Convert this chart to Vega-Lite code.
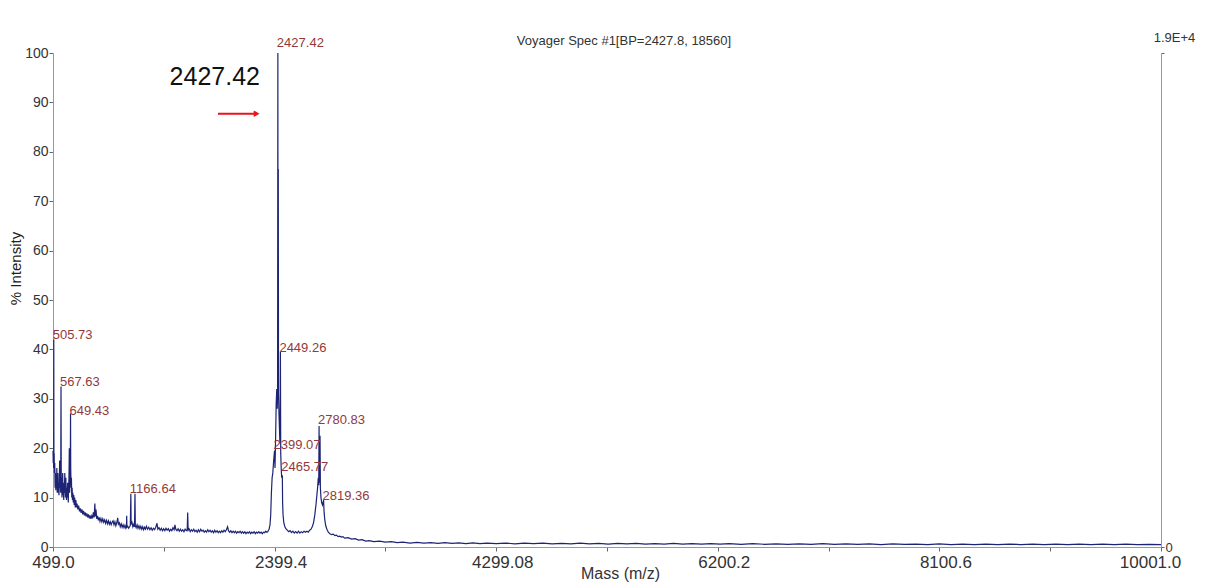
{
  "$schema": "https://vega.github.io/schema/vega-lite/v6.json",
  "width": 1108,
  "height": 494,
  "autosize": {"type": "none"},
  "padding": {"left": 53, "top": 53, "right": 46, "bottom": 40},
  "background": "white",
  "title": {"text": "Voyager Spec #1[BP=2427.8, 18560]", "fontSize": 13, "fontWeight": "normal", "color": "#333", "frame": "group", "dx": 17, "offset": 5, "dy": 22, "font": "Liberation Sans"},
  "config": {"view": {"stroke": null}, "font": "Liberation Sans"},
  "datasets": {
    "spec": [
      {"m":499,"i":19.5},{"m":501,"i":17},{"m":503,"i":18.5},{"m":504.5,"i":16},{"m":505.73,"i":42},{"m":507,"i":17},{"m":509,"i":19},{"m":511,"i":15},{"m":514,"i":17},{"m":517,"i":12},{"m":520,"i":15},{"m":523,"i":11.5},{"m":526,"i":14},{"m":529,"i":12},{"m":532,"i":16},{"m":535,"i":11},{"m":538,"i":13},{"m":541,"i":15},{"m":544,"i":11},{"m":547,"i":13},{"m":550,"i":10.5},{"m":553,"i":12.5},{"m":556,"i":17.5},{"m":559,"i":12},{"m":562,"i":14},{"m":565,"i":11},{"m":567.63,"i":32.5},{"m":570,"i":12},{"m":573,"i":14},{"m":576,"i":10},{"m":579,"i":12},{"m":582,"i":15},{"m":585,"i":10.5},{"m":588,"i":12},{"m":591,"i":9.5},{"m":594,"i":13},{"m":597,"i":11},{"m":600,"i":15},{"m":603,"i":12},{"m":606,"i":10},{"m":609,"i":14},{"m":612,"i":11},{"m":615,"i":9.5},{"m":618,"i":12},{"m":621,"i":10},{"m":624,"i":13},{"m":627,"i":11},{"m":630,"i":9},{"m":633,"i":12},{"m":636,"i":14},{"m":639,"i":20},{"m":642,"i":11},{"m":645,"i":15},{"m":647,"i":13},{"m":649.43,"i":27},{"m":651,"i":16},{"m":654,"i":12},{"m":657,"i":14},{"m":660,"i":10},{"m":663,"i":12},{"m":666,"i":9.5},{"m":669,"i":11},{"m":673,"i":9},{"m":677,"i":10.5},{"m":681,"i":8.5},{"m":685,"i":10},{"m":690,"i":8},{"m":695,"i":9.5},{"m":700,"i":8},
      {"m":705,"i":8.8},{"m":712,"i":7.6},{"m":719,"i":8.4},{"m":726,"i":7.2},{"m":733,"i":7.8},{"m":740,"i":6.9},{"m":747,"i":7.6},{"m":754,"i":6.6},{"m":761,"i":7.3},{"m":768,"i":6.4},{"m":775,"i":7},{"m":782,"i":6.2},{"m":789,"i":6.8},{"m":796,"i":6},{"m":803,"i":6.6},{"m":810,"i":5.8},{"m":817,"i":6.4},{"m":824,"i":5.7},{"m":831,"i":6.3},{"m":838,"i":5.8},{"m":845,"i":7},{"m":852,"i":6},{"m":858,"i":8.8},{"m":862,"i":6.2},{"m":868,"i":7.6},{"m":874,"i":5.7},{"m":881,"i":6.3},{"m":888,"i":5.4},{"m":895,"i":6},{"m":902,"i":5.2},{"m":910,"i":5.8},{"m":918,"i":5.1},{"m":926,"i":5.7},{"m":934,"i":5},{"m":942,"i":5.5},{"m":950,"i":4.8},{"m":958,"i":5.4},{"m":966,"i":4.7},{"m":974,"i":5.3},{"m":982,"i":4.6},{"m":990,"i":5.1},{"m":998,"i":4.5},{"m":1006,"i":5},{"m":1014,"i":5.3},{"m":1022,"i":4.5},{"m":1030,"i":5.1},{"m":1038,"i":4.3},{"m":1046,"i":4.9},{"m":1054,"i":5.9},{"m":1060,"i":4.6},{"m":1068,"i":4.9},{"m":1076,"i":4.1},{"m":1084,"i":4.7},{"m":1092,"i":4},{"m":1100,"i":4.5},{"m":1108,"i":3.9},{"m":1116,"i":4.4},{"m":1124,"i":3.8},{"m":1129,"i":4.1},{"m":1131,"i":6.3},{"m":1133,"i":4},{"m":1140,"i":4.2},{"m":1148,"i":3.8},{"m":1156,"i":4.1},{"m":1162,"i":4.4},{"m":1166.64,"i":10.8},{"m":1169,"i":4.6},{"m":1176,"i":5},{"m":1184,"i":4.1},{"m":1192,"i":4.6},{"m":1198,"i":4.1},{"m":1202,"i":10.8},{"m":1205,"i":4.3},{"m":1212,"i":3.9},{"m":1220,"i":4.5},{"m":1228,"i":3.8},
      {"m":1236,"i":4.3},{"m":1244,"i":3.7},{"m":1252,"i":4.2},{"m":1260,"i":3.6},{"m":1268,"i":4.1},{"m":1276,"i":3.5},{"m":1284,"i":4},{"m":1292,"i":3.6},{"m":1300,"i":4.2},{"m":1310,"i":3.6},{"m":1320,"i":4},{"m":1330,"i":3.5},{"m":1340,"i":3.9},{"m":1350,"i":3.4},{"m":1360,"i":3.8},{"m":1370,"i":3.5},{"m":1380,"i":4},{"m":1391,"i":4.8},{"m":1398,"i":3.6},{"m":1408,"i":3.9},{"m":1418,"i":3.4},{"m":1428,"i":3.8},{"m":1438,"i":3.3},{"m":1448,"i":3.7},{"m":1458,"i":3.3},{"m":1468,"i":3.8},{"m":1478,"i":3.4},{"m":1488,"i":3.7},{"m":1498,"i":3.2},{"m":1508,"i":3.6},{"m":1518,"i":3.3},{"m":1528,"i":3.9},{"m":1538,"i":3.5},{"m":1545,"i":4.5},{"m":1552,"i":3.6},{"m":1562,"i":3.3},{"m":1572,"i":3.7},{"m":1582,"i":3.2},{"m":1592,"i":3.6},{"m":1602,"i":3.2},{"m":1612,"i":3.5},{"m":1622,"i":3.1},{"m":1632,"i":3.6},{"m":1642,"i":3.3},{"m":1650,"i":3.5},{"m":1654,"i":7},{"m":1658,"i":3.4},{"m":1666,"i":3.7},{"m":1676,"i":3.1},{"m":1686,"i":3.5},{"m":1696,"i":3.2},{"m":1706,"i":3.6},{"m":1716,"i":3.1},{"m":1726,"i":3.4},{"m":1736,"i":3},{"m":1746,"i":3.5},{"m":1756,"i":3.1},{"m":1766,"i":3.6},{"m":1776,"i":3.2},{"m":1786,"i":3.4},{"m":1796,"i":3},{"m":1806,"i":3.3},{"m":1816,"i":3},{"m":1826,"i":3.5},{"m":1836,"i":3.1},{"m":1846,"i":3.4},{"m":1856,"i":3},{"m":1866,"i":3.3},{"m":1876,"i":2.9},{"m":1886,"i":3.4},{"m":1896,"i":3},{"m":1906,"i":3.3},{"m":1916,"i":2.9},{"m":1926,"i":3.2},{"m":1936,"i":2.9},{"m":1946,"i":3.3},{"m":1956,"i":3},{"m":1966,"i":3.4},{"m":1976,"i":3.1},{"m":1986,"i":3.5},{"m":1996,"i":4.1},{"m":2004,"i":3.3},{"m":2014,"i":3},{"m":2024,"i":3.3},{"m":2034,"i":2.9},{"m":2044,"i":3.2},{"m":2054,"i":2.9},{"m":2064,"i":3.2},{"m":2074,"i":2.8},{"m":2084,"i":3.1},{"m":2094,"i":2.9},{"m":2104,"i":3.2},{"m":2114,"i":2.8},{"m":2124,"i":3.1},{"m":2134,"i":2.8},{"m":2144,"i":3.1},{"m":2154,"i":2.7},{"m":2164,"i":3},{"m":2174,"i":2.8},{"m":2184,"i":3.1},{"m":2194,"i":2.7},{"m":2204,"i":3},{"m":2214,"i":2.8},{"m":2224,"i":3.1},{"m":2234,"i":2.7},{"m":2244,"i":3},{"m":2254,"i":2.8},{"m":2264,"i":3.1},{"m":2274,"i":2.8},{"m":2284,"i":3},{"m":2294,"i":2.7},{"m":2304,"i":3},{"m":2314,"i":2.9},{"m":2324,"i":3.2},{"m":2332,"i":3},
      {"m":2340,"i":3.1},{"m":2352,"i":3.6},{"m":2360,"i":4.5},{"m":2366,"i":6.5},{"m":2372,"i":11},{"m":2378,"i":14},{"m":2384,"i":15},{"m":2390,"i":17},{"m":2395,"i":18.5},{"m":2399.07,"i":19.5},{"m":2403,"i":16},{"m":2408,"i":22},{"m":2413,"i":29},{"m":2418,"i":32},{"m":2422,"i":28},{"m":2425,"i":31},{"m":2427.42,"i":100},{"m":2429,"i":33},{"m":2431,"i":76.5},{"m":2433,"i":31},{"m":2437,"i":27},{"m":2441,"i":24},{"m":2445,"i":21},{"m":2447,"i":26},{"m":2449.26,"i":39.5},{"m":2452,"i":19},{"m":2456,"i":16},{"m":2460,"i":14},{"m":2465.77,"i":14.5},{"m":2468,"i":9},{"m":2472,"i":6.5},{"m":2478,"i":5},{"m":2486,"i":4.2},{"m":2496,"i":3.7},{"m":2508,"i":3.4},{"m":2520,"i":3.1},
      {"m":2532,"i":3.3},{"m":2544,"i":2.9},{"m":2556,"i":3.2},{"m":2568,"i":2.8},{"m":2580,"i":3.1},{"m":2592,"i":2.8},{"m":2604,"i":3.2},{"m":2616,"i":2.8},{"m":2628,"i":3.1},{"m":2640,"i":2.9},{"m":2652,"i":3.2},{"m":2664,"i":3},{"m":2676,"i":3.2},{"m":2688,"i":3},{"m":2700,"i":3.4},{"m":2712,"i":3.6},{"m":2724,"i":4.2},{"m":2734,"i":5},{"m":2744,"i":6.5},{"m":2754,"i":8.5},{"m":2762,"i":10.5},{"m":2768,"i":12},{"m":2774,"i":14},{"m":2778,"i":12.5},{"m":2780.83,"i":24.5},{"m":2783,"i":13},{"m":2786,"i":19},{"m":2789,"i":22.5},{"m":2792,"i":12},{"m":2797,"i":10},{"m":2803,"i":9},{"m":2810,"i":8.5},{"m":2815,"i":9},{"m":2819.36,"i":9.5},{"m":2824,"i":7},{"m":2830,"i":5.5},{"m":2838,"i":4.3},{"m":2848,"i":3.6},{"m":2860,"i":3},{"m":2874,"i":2.7},{"m":2888,"i":2.5},{"m":2902,"i":2.6},{"m":2916,"i":2.3},{"m":2930,"i":2.4},{"m":2944,"i":2.1},{"m":2958,"i":2.2},{"m":2972,"i":2},{"m":2986,"i":2.1},{"m":3000,"i":1.8},
      {"m":3030,"i":1.9},{"m":3060,"i":1.6},{"m":3090,"i":1.7},{"m":3120,"i":1.4},{"m":3150,"i":1.5},{"m":3180,"i":1.2},{"m":3210,"i":1.3},{"m":3250,"i":1.1},{"m":3300,"i":1.2},{"m":3350,"i":1},{"m":3400,"i":1.1},{"m":3450,"i":0.9},{"m":3500,"i":1},{"m":3560,"i":0.8},{"m":3620,"i":0.95},{"m":3680,"i":0.8},{"m":3740,"i":0.9},{"m":3800,"i":0.75},{"m":3860,"i":0.9},{"m":3920,"i":0.75},{"m":3980,"i":0.85},{"m":4040,"i":0.7},{"m":4100,"i":0.85},{"m":4160,"i":0.7},{"m":4220,"i":0.8},{"m":4300,"i":0.7},{"m":4380,"i":0.8},{"m":4460,"i":0.65},{"m":4540,"i":0.8},{"m":4620,"i":0.7},{"m":4700,"i":0.8},{"m":4780,"i":0.65},{"m":4860,"i":0.75},{"m":4940,"i":0.65},{"m":5020,"i":0.8},{"m":5100,"i":0.65},{"m":5180,"i":0.75},{"m":5260,"i":0.6},{"m":5340,"i":0.75},{"m":5420,"i":0.65},{"m":5500,"i":0.75},{"m":5580,"i":0.6},{"m":5660,"i":0.7},{"m":5740,"i":0.6},{"m":5820,"i":0.75},{"m":5900,"i":0.6},{"m":5980,"i":0.7},{"m":6060,"i":0.6},{"m":6140,"i":0.7},{"m":6220,"i":0.6},{"m":6300,"i":0.7},{"m":6400,"i":0.55},{"m":6500,"i":0.7},{"m":6600,"i":0.55},{"m":6700,"i":0.65},{"m":6800,"i":0.55},{"m":6900,"i":0.65},{"m":7000,"i":0.55},{"m":7100,"i":0.7},{"m":7200,"i":0.55},{"m":7300,"i":0.65},{"m":7400,"i":0.55},{"m":7500,"i":0.65},{"m":7600,"i":0.5},{"m":7700,"i":0.65},{"m":7800,"i":0.55},{"m":7900,"i":0.6},{"m":8000,"i":0.5},{"m":8100,"i":0.65},{"m":8200,"i":0.5},{"m":8300,"i":0.6},{"m":8400,"i":0.5},{"m":8500,"i":0.6},{"m":8600,"i":0.5},{"m":8700,"i":0.6},{"m":8800,"i":0.5},{"m":8900,"i":0.6},{"m":9000,"i":0.5},{"m":9100,"i":0.6},{"m":9200,"i":0.5},{"m":9300,"i":0.6},{"m":9400,"i":0.5},{"m":9500,"i":0.6},{"m":9600,"i":0.5},{"m":9700,"i":0.6},{"m":9800,"i":0.5},{"m":9900,"i":0.55},{"m":10001,"i":0.5}
    ],
    "labels": [
      {"m":2427.42,"ly":102,"t":"2427.42"},
      {"m":505.73,"ly":43,"t":"505.73"},
      {"m":567.63,"ly":33.5,"t":"567.63"},
      {"m":649.43,"ly":27.5,"t":"649.43"},
      {"m":1166.64,"ly":11.8,"t":"1166.64"},
      {"m":2449.26,"ly":40.2,"t":"2449.26"},
      {"m":2399.07,"ly":20.6,"t":"2399.07"},
      {"m":2465.77,"ly":16.2,"t":"2465.77"},
      {"m":2780.83,"ly":25.8,"t":"2780.83"},
      {"m":2819.36,"ly":10.3,"t":"2819.36"}
    ],
    "note": [{"m":2274,"ly":95.1,"t":"2427.42","m1":1914,"m2":2245,"ay":87.7}]
  },
  "layer": [
    {
      "layer": [
        {
          "data": {"name": "spec"},
          "mark": {"type": "line", "color": "#1d2474", "strokeWidth": 1.2, "interpolate": "linear"},
          "encoding": {
            "x": {"field": "m", "type": "quantitative", "scale": {"domain": [499, 10001], "nice": false, "zero": false},
              "axis": {"title": "Mass (m/z)", "titleFontSize": 16, "titleFontWeight": "normal", "titleColor": "#333", "titleX": 567, "titleY": 26, "titleBaseline": "middle",
                "values": [499, 1449.2, 2399.4, 3349.6, 4299.8, 5250, 6200.2, 7150.4, 8100.6, 9050.8, 10001],
                "labelExpr": "datum.value == 499 ? '499.0' : datum.value == 2399.4 ? '2399.4' : datum.value == 4299.8 ? '4299.08' : datum.value == 6200.2 ? '6200.2' : datum.value == 8100.6 ? '8100.6' : datum.value == 10001 ? '10001.0' : ''",
                "labelOffset": {"condition": [{"test": "datum.value == 10001", "value": -11}, {"test": "datum.value > 2000", "value": 6}], "value": 0},
                "labelFlush": false, "labelOverlap": false, "labelFontSize": 17, "labelColor": "#333", "labelPadding": 3,
                "tickSize": 4, "tickColor": "#666", "domainColor": "#999", "grid": false}},
            "y": {"field": "i", "type": "quantitative", "scale": {"domain": [0, 100], "nice": false},
              "axis": {"title": "% Intensity", "titleFontSize": 15, "titleFontWeight": "normal", "titleColor": "#222", "titleX": -38, "titleY": 215, "titleBaseline": "middle",
                "values": [0,5,10,15,20,25,30,35,40,45,50,55,60,65,70,75,80,85,90,95,100],
                "labelExpr": "datum.value % 10 == 0 ? datum.label : ''",
                "labelFontSize": 14, "labelColor": "#333", "labelPadding": 1,
                "tickSize": {"condition": {"test": "datum.value % 10 == 0", "value": 4}, "value": 2},
                "tickColor": "#666", "domainColor": "#999", "grid": false}}
          }
        },
        {
          "data": {"name": "labels"},
          "mark": {"type": "text", "align": "left", "baseline": "middle", "fontSize": 13, "color": "#93393b", "dx": -1},
          "encoding": {
            "x": {"field": "m", "type": "quantitative"},
            "y": {"field": "ly", "type": "quantitative"},
            "text": {"field": "t"}
          }
        },
        {
          "data": {"name": "note"},
          "mark": {"type": "text", "align": "right", "baseline": "middle", "fontSize": 25, "color": "#111"},
          "encoding": {
            "x": {"field": "m", "type": "quantitative"},
            "y": {"field": "ly", "type": "quantitative"},
            "text": {"field": "t"}
          }
        },
        {
          "data": {"name": "note"},
          "mark": {"type": "rule", "color": "#e8151b", "strokeWidth": 2},
          "encoding": {
            "x": {"field": "m1", "type": "quantitative"},
            "x2": {"field": "m2"},
            "y": {"field": "ay", "type": "quantitative"}
          }
        },
        {
          "data": {"name": "note"},
          "mark": {"type": "point", "shape": "triangle-right", "filled": true, "color": "#e8151b", "size": 45, "opacity": 1},
          "encoding": {
            "x": {"field": "m2", "type": "quantitative"},
            "y": {"field": "ay", "type": "quantitative"}
          }
        }
      ]
    },
    {
      "data": {"values": [{}]},
      "mark": {"type": "rule", "opacity": 0},
      "encoding": {
        "y": {"datum": 0, "type": "quantitative", "scale": {"domain": [0, 19000], "nice": false},
          "axis": {"orient": "right", "title": null, "values": [0, 19000],
            "labelExpr": "datum.value == 0 ? '0' : '1.9E+4'",
            "labelFontSize": 13, "labelColor": "#333",
            "labelAlign": {"condition": {"test": "datum.value > 0", "value": "center"}, "value": "left"},
            "labelBaseline": {"condition": {"test": "datum.value > 0", "value": "bottom"}, "value": "middle"},
            "labelOffset": {"condition": {"test": "datum.value > 0", "value": -9}, "value": 0},
            "labelPadding": {"condition": {"test": "datum.value > 0", "value": 10}, "value": 1},
            "tickSize": 3, "tickColor": "#666", "domainColor": "#999", "grid": false}}
      }
    }
  ],
  "resolve": {"scale": {"y": "independent"}, "axis": {"y": "independent"}}
}
